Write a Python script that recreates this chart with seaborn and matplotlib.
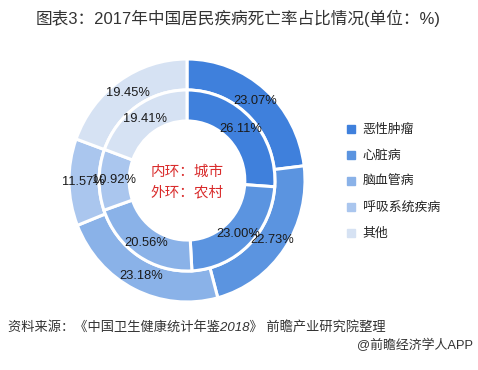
import matplotlib
matplotlib.use("Agg")
import matplotlib.pyplot as plt
import seaborn as sns
from matplotlib.lines import Line2D

# ---- data ----
categories = ["恶性肿瘤", "心脏病", "脑血管病", "呼吸系统疾病", "其他"]
rural_values = [23.07, 22.73, 23.18, 11.57, 19.45]   # outer ring (农村)
urban_values = [26.11, 23.00, 20.56, 10.92, 19.41]   # inner ring (城市)
colors_hex = ["#3F80DC", "#5B94E0", "#8AB2E8", "#AAC6EE", "#D6E2F3"]
title = "图表3：2017年中国居民疾病死亡率占比情况(单位：%)"
center_lines = ["内环：城市", "外环：农村"]
source = "资料来源：《中国卫生健康统计年鉴2018》 前瞻产业研究院整理"
brand = "@前瞻经济学人APP"

sns.set_style("white")
plt.rcParams['font.family'] = ['Liberation Sans', 'Noto Sans CJK SC', 'DejaVu Sans']
palette = sns.color_palette(colors_hex)

fig = plt.figure(figsize=(4.78, 3.7), dpi=100)
ax = fig.add_axes([69 / 478, 68 / 370, 236 / 478, 243 / 370])


def make_fmt(vals):
    it = iter(vals)
    return lambda p: f"{next(it):.2f}%"


txt = dict(fontsize=9.3, color="#1a1a1a")
ax.pie(rural_values, radius=1.0, startangle=90, counterclock=False,
       colors=palette, autopct=make_fmt(rural_values), pctdistance=0.875,
       wedgeprops=dict(width=0.255, edgecolor="white", linewidth=2.2),
       textprops=txt)
ax.pie(urban_values, radius=0.745, startangle=90, counterclock=False,
       colors=palette, autopct=make_fmt(urban_values), pctdistance=0.83,
       wedgeprops=dict(width=0.255, edgecolor="white", linewidth=2.2),
       textprops=txt)
ax.set_aspect("auto")
ax.set_xlim(-1, 1)
ax.set_ylim(-1, 1)
ax.axis("off")

ax.text(0, 0.07, center_lines[0], ha="center", va="center", fontsize=10.5, color="#D92B2B")
ax.text(0, -0.095, center_lines[1], ha="center", va="center", fontsize=10.5, color="#D92B2B")

handles = [Line2D([], [], marker="s", linestyle="", markersize=5.5, color=c) for c in palette]
fig.legend(handles, categories, loc="upper left", bbox_to_anchor=(346 / 478, 1 - 124 / 370),
           frameon=False, fontsize=9.3, handlelength=0.8, handletextpad=0.5,
           labelspacing=1.08, borderpad=0, borderaxespad=0)

fig.text(238 / 478, 1 - 18 / 370, title, ha="center", va="center", fontsize=12, color="#333333")
fig.text(8 / 478, 1 - 327 / 370, source, ha="left", va="center", fontsize=9.5,
         color="#333333", style="italic")
fig.text(473 / 478, 1 - 345 / 370, brand, ha="right", va="center", fontsize=9.3, color="#333333")

fig.savefig("out.png", dpi=100)
